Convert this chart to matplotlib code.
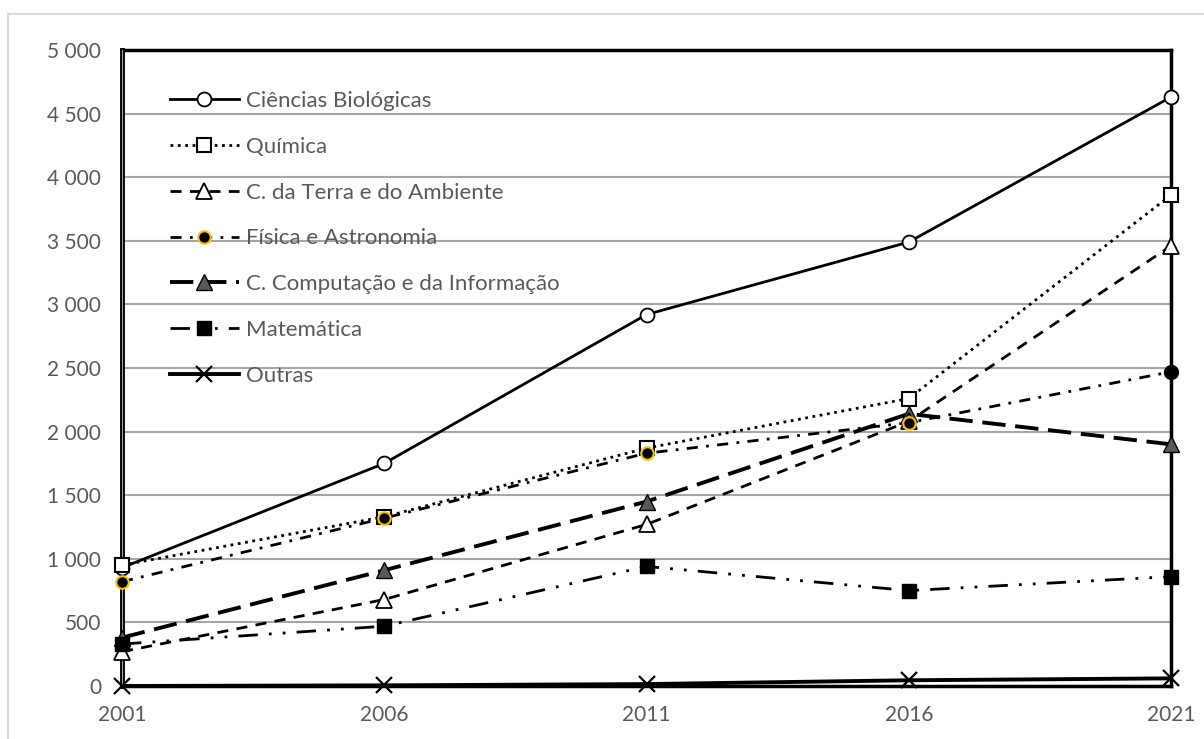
import matplotlib.pyplot as plt
from matplotlib.lines import Line2D
from matplotlib.ticker import FuncFormatter

plt.rcParams['font.family'] = ['Lato', 'DejaVu Sans']

# data
anos = [2001, 2006, 2011, 2016, 2021]
biologicas = [930, 1750, 2920, 3490, 4630]
quimica = [950, 1330, 1870, 2260, 3860]
terra = [270, 680, 1270, 2080, 3460]
fisica = [820, 1320, 1830, 2070, 2470]
computacao = [380, 910, 1450, 2140, 1900]
matematica = [330, 470, 940, 750, 860]
outras = [0, 5, 15, 45, 60]

cinza = '#595959'

fig = plt.figure(figsize=(12.04, 7.39), dpi=100)
ax = fig.add_axes([122/1204, 1 - 686/739, (1171-122)/1204, (686-50)/739])

# outer chart border (light gray)
fig.add_artist(Line2D([8/1204, 8/1204], [0, 1 - 14/739], color='#d9d9d9', lw=1.5))
fig.add_artist(Line2D([8/1204, 1], [1 - 14/739, 1 - 14/739], color='#d9d9d9', lw=1.5))

ax.plot(anos, biologicas, '-', color='black', lw=2, marker='o', ms=10,
        mfc='white', mec='black', mew=1.3, label='Ciências Biológicas', clip_on=False, zorder=5)
ax.plot(anos, quimica, ':', color='black', lw=2, marker='s', ms=10,
        mfc='white', mec='black', mew=1.5, label='Química', clip_on=False, zorder=5)
ax.plot(anos, terra, color='black', lw=2, dashes=(4, 3), marker='^', ms=11,
        mfc='white', mec='black', mew=1.3, label='C. da Terra e do Ambiente', clip_on=False, zorder=5)
ax.plot(anos, fisica, color='black', lw=2, dashes=(4, 3, 1, 3), marker='o', ms=9,
        mfc='black', mec='#FFC000', mew=1.5, label='Física e Astronomia', clip_on=False,
        markevery=[0, 1, 2, 3], zorder=5)
ax.plot(anos[-1:], fisica[-1:], 'o', ms=10, mfc='black', mec='black', clip_on=False, zorder=5)
ax.plot(anos, computacao, color='black', lw=2.8, dashes=(6, 2.5), marker='^', ms=11,
        mfc=cinza, mec='black', mew=1, label='C. Computação e da Informação', clip_on=False, zorder=4)
ax.plot(anos, matematica, color='black', lw=2, dashes=(7, 4, 1, 4, 1, 4), marker='s', ms=10,
        mfc='black', mec='black', label='Matemática', clip_on=False, zorder=5)
ax.plot(anos, outras, '-', color='black', lw=2.8, marker='x', ms=12, mew=1.6,
        label='Outras', clip_on=False, zorder=5)

ax.set_xlim(2001, 2021)
ax.set_ylim(0, 5000)
ax.set_xticks(anos)
ax.set_yticks(range(0, 5001, 500))
ax.yaxis.set_major_formatter(FuncFormatter(lambda v, p: f'{int(v):,}'.replace(',', ' ')))
ax.tick_params(length=0, labelsize=15, colors=cinza)
ax.tick_params(axis='y', pad=15)
ax.tick_params(axis='x', pad=14)
ax.grid(axis='y', color='#a6a6a6', lw=1.5)
ax.set_axisbelow(True)

for pos in ['top', 'right', 'bottom']:
    ax.spines[pos].set_linewidth(2.5)
    ax.spines[pos].set_color('black')
ax.spines['left'].set_linewidth(3.5)
ax.spines['left'].set_color('black')
ax.axvline(2001, color='#a6a6a6', lw=1.5, zorder=3)

ax.legend(loc='upper left', bbox_to_anchor=(0.0265, 0.967), frameon=False, fontsize=16,
          handlelength=3.1, labelspacing=1.16, handletextpad=0.35, borderpad=0.4,
          labelcolor=cinza)

fig.savefig('out.png', dpi=100)
